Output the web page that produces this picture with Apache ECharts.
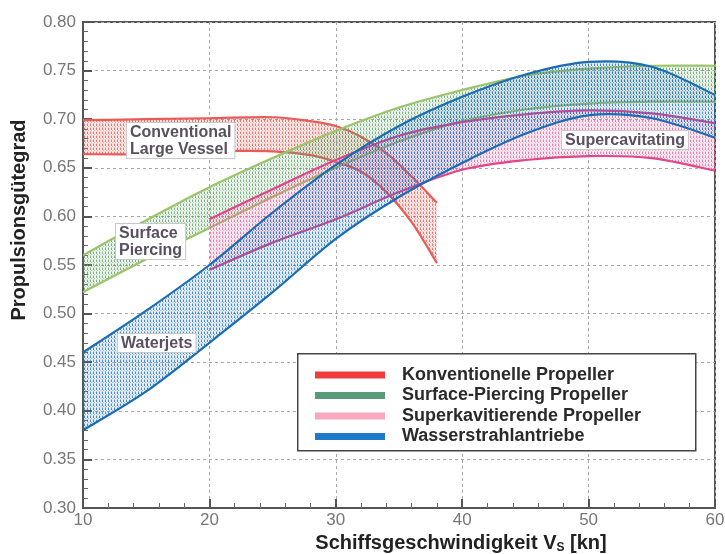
<!DOCTYPE html>
<html><head><meta charset="utf-8">
<script src="https://cdn.jsdelivr.net/npm/echarts@6/dist/echarts.min.js"></script>
<style>html,body{margin:0;padding:0;background:#fff}#c{width:725px;height:554px}</style>
</head><body><div id="c"></div>
<script>
// ---- data ----
const redX = [10, 15, 20, 25, 28, 30, 32, 34, 36, 38];
const redLow = [0.664, 0.664, 0.667, 0.667, 0.663, 0.656, 0.646, 0.625, 0.594, 0.552];
const redHigh = [0.699, 0.700, 0.701, 0.702, 0.698, 0.693, 0.682, 0.665, 0.641, 0.614];

const greenX = [10, 15, 20, 25, 30, 35, 40, 45, 50, 55, 60];
const greenLow = [0.522, 0.556, 0.588, 0.620, 0.650, 0.677, 0.698, 0.710, 0.716, 0.718, 0.718];
const greenHigh = [0.560, 0.596, 0.630, 0.660, 0.688, 0.712, 0.730, 0.745, 0.752, 0.755, 0.755];

const pinkX = [20, 25, 30, 35, 40, 45, 50, 55, 60];
const pinkLow = [0.545, 0.573, 0.597, 0.625, 0.648, 0.658, 0.662, 0.660, 0.647];
const pinkHigh = [0.597, 0.628, 0.658, 0.683, 0.697, 0.705, 0.709, 0.706, 0.696];

const blueX = [10, 15, 20, 25, 30, 35, 40, 45, 50, 55, 60];
const blueLow = [0.380, 0.420, 0.470, 0.522, 0.577, 0.620, 0.655, 0.685, 0.704, 0.701, 0.681];
const blueHigh = [0.460, 0.503, 0.550, 0.604, 0.653, 0.693, 0.723, 0.746, 0.759, 0.754, 0.725];

const legendNames = ['Konventionelle Propeller', 'Surface-Piercing Propeller', 'Superkavitierende Propeller', 'Wasserstrahlantriebe'];
const bandLabels = ['Conventional\nLarge Vessel', 'Surface\nPiercing', 'Supercavitating', 'Waterjets'];

// ---- styling helpers ----
function hatch(rgb) {
  const c = document.createElement('canvas');
  c.width = 3; c.height = 4;
  const g = c.getContext('2d');
  g.fillStyle = 'rgba(' + rgb + ',0.14)';
  g.fillRect(1, 0, 2, 4);
  g.fillStyle = 'rgba(' + rgb + ',0.8)';
  g.fillRect(0, 0, 1, 2);
  g.fillStyle = 'rgba(' + rgb + ',0.4)';
  g.fillRect(0, 3, 1, 1);
  g.fillRect(1, 2, 1, 1);
  return { image: c, repeat: 'repeat' };
}

// Catmull-Rom -> cubic bezier path through pixel points
function crPath(pts, moveFirst) {
  let d = (moveFirst ? 'M' : 'L') + pts[0][0] + ',' + pts[0][1];
  const n = pts.length;
  for (let i = 0; i < n - 1; i++) {
    const p0 = pts[Math.max(0, i - 1)], p1 = pts[i], p2 = pts[i + 1], p3 = pts[Math.min(n - 1, i + 2)];
    const c1 = [p1[0] + (p2[0] - p0[0]) / 6, p1[1] + (p2[1] - p0[1]) / 6];
    const c2 = [p2[0] - (p3[0] - p1[0]) / 6, p2[1] - (p3[1] - p1[1]) / 6];
    d += 'C' + c1[0] + ',' + c1[1] + ',' + c2[0] + ',' + c2[1] + ',' + p2[0] + ',' + p2[1];
  }
  return d;
}

const bands = [
  { name: legendNames[0], x: redX, lo: redLow, hi: redHigh, line: '#ec5a55', rgb: '236,80,70', leg: '#f23b3b' },
  { name: legendNames[1], x: greenX, lo: greenLow, hi: greenHigh, line: '#9cc46a', rgb: '90,160,100', leg: '#5a9a78' },
  { name: legendNames[2], x: pinkX, lo: pinkLow, hi: pinkHigh, line: '#e2468a', rgb: '235,90,150', leg: '#f7a8bf' },
  { name: legendNames[3], x: blueX, lo: blueLow, hi: blueHigh, line: '#1a6cb4', rgb: '30,110,190', leg: '#1f78c8' }
];

const series = bands.map((b, i) => ({
  name: b.name, type: 'custom', z: 2,
  itemStyle: { color: b.leg },
  data: b.x.map((x, k) => [x, b.lo[k], b.hi[k]]),
  encode: { x: 0, y: [1, 2] },
  clip: true,
  renderItem: function (params, api) {
    if (params.dataIndexInside !== 0) return null;
    const n = params.dataInsideLength;
    const up = [], lo = [];
    for (let k = 0; k < n; k++) {
      const x = api.value(0, k);
      up.push(api.coord([x, api.value(2, k)]));
      lo.push(api.coord([x, api.value(1, k)]));
    }
    const loRev = lo.slice().reverse();
    const fillPath = crPath(up, true) + crPath(loRev, false) + 'Z';
    return {
      type: 'group',
      children: [
        { type: 'path', shape: { pathData: fillPath }, style: { fill: hatch(b.rgb), stroke: null } },
        { type: 'path', shape: { pathData: crPath(up, true) }, style: { fill: null, stroke: b.line, lineWidth: 2.2 } },
        { type: 'path', shape: { pathData: crPath(lo, true) }, style: { fill: null, stroke: b.line, lineWidth: 2.2 } }
      ]
    };
  }
}));

const chart = echarts.init(document.getElementById('c'));
const labelStyle = (text, x, y) => ({
  type: 'text', left: x, top: y, z: 100,
  style: {
    text: text, font: 'bold 16px "Liberation Sans", Arial, sans-serif', fill: '#5a5060',
    backgroundColor: '#fff', borderColor: '#c8c8c8', borderWidth: 1, padding: [1, 3, 0, 3], lineHeight: 17
  }
});

chart.setOption({
  animation: false,
  backgroundColor: '#fff',
  grid: { left: 83, right: 10, top: 22, bottom: 46, outerBoundsMode: 'none', containLabel: false,
    show: true, borderColor: '#555', borderWidth: 2, backgroundColor: 'transparent' },
  xAxis: {
    type: 'value', min: 10, max: 60, interval: 10,
    name: 'Schiffsgeschwindigkeit V{sub|S} [kn]', nameLocation: 'middle', nameGap: 24,
    nameTextStyle: { fontFamily: '"Liberation Sans", Arial', fontWeight: 'bold', fontSize: 20, color: '#222', padding: [0, 0, 0, 124],
      rich: { sub: { fontFamily: '"Liberation Sans", Arial', fontWeight: 'bold', fontSize: 12, color: '#222', verticalAlign: 'bottom', padding: [8, 0, 0, 0] } } },
    axisLine: { lineStyle: { color: '#555', width: 2 } },
    axisTick: { inside: true, length: 9, lineStyle: { color: '#555', width: 2 } },
    minorTick: { show: true, splitNumber: 5, length: 5, lineStyle: { color: '#666', width: 1 } },
    axisLabel: { margin: 4, fontFamily: '"Liberation Sans", Arial', fontSize: 17, color: '#777' },
    splitLine: { lineStyle: { type: [3, 3], color: '#a8a8a8', width: 1 } }
  },
  yAxis: {
    type: 'value', min: 0.30, max: 0.80, interval: 0.05,
    name: 'Propulsionsgütegrad', nameLocation: 'middle', nameGap: 54,
    nameTextStyle: { fontFamily: '"Liberation Sans", Arial', fontWeight: 'bold', fontSize: 20, color: '#222', padding: [0, 0, 0, 90] },
    axisLine: { lineStyle: { color: '#555', width: 2 } },
    axisTick: { inside: true, length: 9, lineStyle: { color: '#555', width: 2 } },
    minorTick: { show: true, splitNumber: 5, length: 5, lineStyle: { color: '#666', width: 1 } },
    axisLabel: { margin: 7, fontFamily: '"Liberation Sans", Arial', fontSize: 17, color: '#777', formatter: v => v.toFixed(2) },
    splitLine: { lineStyle: { type: [3, 3], color: '#a8a8a8', width: 1 } }
  },
  legend: {
    orient: 'vertical', left: 310, top: 361, itemWidth: 70, itemHeight: 7, itemGap: 2.5, icon: 'rect', z: 20,
    data: bands.map(b => ({ name: b.name, itemStyle: { color: b.leg } })),
    textStyle: { fontFamily: '"Liberation Sans", Arial', fontWeight: 'bold', fontSize: 18, color: '#2a2a2a', lineHeight: 18, padding: [0, 0, 0, 12] },
    selectedMode: false
  },
  graphic: [
    { type: 'rect', left: 297, top: 353, z: 10, shape: { width: 398, height: 97 }, style: { fill: '#fff', stroke: '#444', lineWidth: 1.5 } },
    labelStyle(bandLabels[0], 126, 122),
    labelStyle(bandLabels[1], 115, 223),
    labelStyle(bandLabels[2], 561, 130),
    labelStyle(bandLabels[3], 117, 333)
  ],
  series: series
});
</script></body></html>
